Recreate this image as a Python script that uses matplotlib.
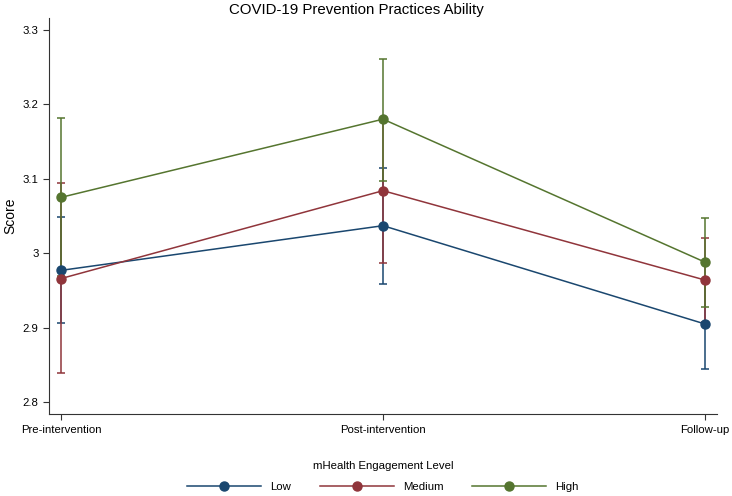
import matplotlib.pyplot as plt
from matplotlib.lines import Line2D
import numpy as np

plt.rcParams['font.family'] = ['Liberation Sans', 'DejaVu Sans']

# ─── Datos ───────────────────────────────────────────────────────────────────

timepoints = ['Pre-intervention', 'Post-intervention', 'Follow-up']
groups = ['Low', 'Medium', 'High']
colors = ['#1a476f', '#90353b', '#55752f']

low_mean = [2.977, 3.037, 2.905]
low_lo   = [2.906, 2.959, 2.845]
low_hi   = [3.048, 3.115, 2.965]

med_mean = [2.966, 3.084, 2.964]
med_lo   = [2.839, 2.987, 2.908]
med_hi   = [3.094, 3.181, 3.020]

high_mean = [3.075, 3.180, 2.988]
high_lo   = [2.969, 3.097, 2.928]
high_hi   = [3.181, 3.261, 3.047]

means = [low_mean, med_mean, high_mean]
los = [low_lo, med_lo, high_lo]
his = [low_hi, med_hi, high_hi]

# ─── Grafico ─────────────────────────────────────────────────────────────────

fig = plt.figure(figsize=(7.32, 4.96), dpi=100)
ax = fig.add_axes([0.067, 0.165, 0.9125, 0.799])

x = np.arange(len(timepoints))
handles = []
for g, c, m, lo, hi in zip(groups, colors, means, los, his):
    m = np.array(m)
    yerr = [m - np.array(lo), np.array(hi) - m]
    ax.errorbar(x, m, yerr=yerr, color=c, lw=1.1, elinewidth=1.1,
                capsize=3, capthick=1.1, marker='o', markersize=6.5,
                markeredgecolor=c)
    handles.append(Line2D([], [], color=c, lw=1.1, marker='o',
                          markersize=6.5, label=g))

ax.set_xlim(-0.037, 2.037)
ax.set_ylim(2.784, 3.316)
ax.set_xticks(x)
ax.set_xticklabels(timepoints)
ax.set_yticks([2.8, 2.9, 3.0, 3.1, 3.2, 3.3])
ax.set_yticklabels(['2.8', '2.9', '3', '3.1', '3.2', '3.3'])
ax.tick_params(labelsize=8.2, length=4, width=0.8, color='#333333')
for s in ['top', 'right']:
    ax.spines[s].set_visible(False)
for s in ['left', 'bottom']:
    ax.spines[s].set_color('#333333')
ax.set_ylabel('Score', fontsize=10)
fig.text(356 / 732, 1 - 10 / 496, 'COVID-19 Prevention Practices Ability',
         ha='center', va='center', fontsize=10.8)

fig.text(383 / 732, 1 - 466 / 496, 'mHealth Engagement Level',
         ha='center', va='center', fontsize=8.2)
fig.legend(handles=handles, loc='center', bbox_to_anchor=(383 / 732, 1 - 487 / 496),
           ncol=3, frameon=False, fontsize=8.2, handlelength=6.5,
           columnspacing=2.5, borderaxespad=0, borderpad=0)

plt.savefig('out.png', dpi=100)
plt.close()
